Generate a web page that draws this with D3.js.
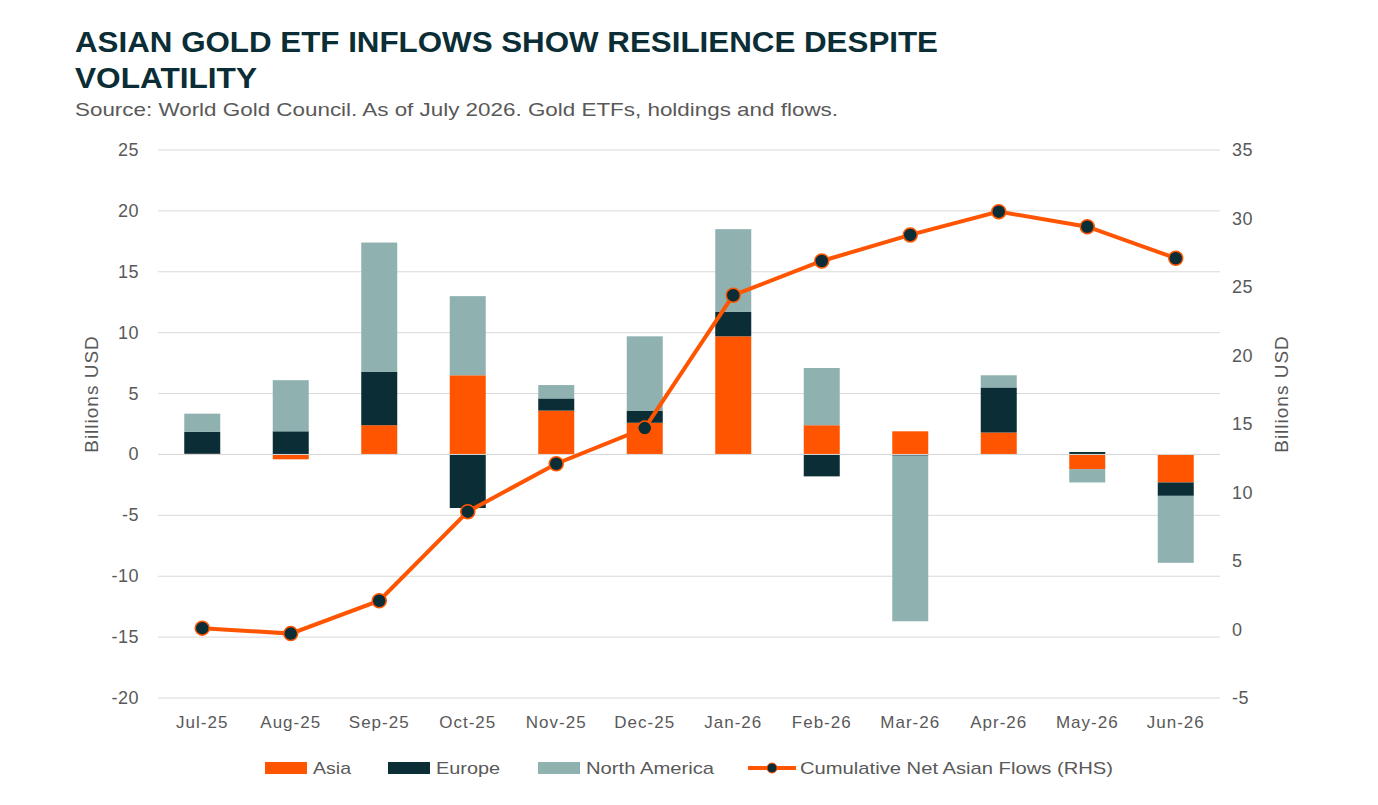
<!DOCTYPE html><html><head><meta charset="utf-8">
<script src="https://cdn.jsdelivr.net/npm/d3@7"></script>
<style>body{margin:0;background:#fff;font-family:"Liberation Sans",Arial,sans-serif}</style></head><body>
<svg id="c" width="1378" height="805"></svg>
<script>
const months=["Jul-25","Aug-25","Sep-25","Oct-25","Nov-25","Dec-25","Jan-26","Feb-26","Mar-26","Apr-26","May-26","Jun-26"];
const asia=[0.05,-0.4,2.4,6.5,3.6,2.6,9.7,2.4,1.9,1.8,-1.2,-2.3];
const europe=[1.8,1.9,4.4,-4.4,1.0,1.0,2.0,-1.8,-0.1,3.7,0.2,-1.1];
const northAmerica=[1.5,4.2,10.6,6.5,1.1,6.1,6.8,4.7,-13.6,1.0,-1.1,-5.5];
const cumulative=[0.1,-0.3,2.1,8.6,12.1,14.7,24.4,26.9,28.8,30.5,29.4,27.1];
const leftTicks=[25,20,15,10,5,0,-5,-10,-15,-20];
const rightTicks=[35,30,25,20,15,10,5,0,-5];
const svg=d3.select("#c");
const C={a:"#FF5500",e:"#0B2D35",n:"#8FB2B0",t:"#0B2D35",g:"#595959"};
svg.append("text").attr("x",75).attr("y",52).attr("font-size",29).attr("font-weight","bold").attr("fill",C.t).attr("textLength",863).attr("lengthAdjust","spacingAndGlyphs").text("ASIAN GOLD ETF INFLOWS SHOW RESILIENCE DESPITE");
svg.append("text").attr("x",75).attr("y",88).attr("font-size",29).attr("font-weight","bold").attr("fill",C.t).attr("textLength",182).attr("lengthAdjust","spacingAndGlyphs").text("VOLATILITY");
svg.append("text").attr("x",75).attr("y",116).attr("font-size",19).attr("fill",C.g).attr("textLength",763).attr("lengthAdjust","spacingAndGlyphs").text("Source: World Gold Council. As of July 2026. Gold ETFs, holdings and flows.");
const L=158,R=1220,T=150,B=698;
const x=d3.scaleBand().domain(months).range([L,R]);
const y=d3.scaleLinear().domain([-20,25]).range([B,T]);
const y2=d3.scaleLinear().domain([-5,35]).range([B,T]);
leftTicks.forEach(t=>{svg.append("line").attr("x1",L).attr("x2",R).attr("y1",y(t)).attr("y2",y(t)).attr("stroke","#d9d9d9");
svg.append("text").attr("x",139).attr("y",y(t)+6).attr("text-anchor","end").attr("font-size",18).attr("letter-spacing",0.5).attr("fill",C.g).text(t);});
rightTicks.forEach(t=>svg.append("text").attr("x",1232).attr("y",y2(t)+6).attr("font-size",18).attr("letter-spacing",0.5).attr("fill",C.g).text(t));
svg.append("text").attr("transform",`translate(98,${(T+B)/2-30}) rotate(-90)`).attr("text-anchor","middle").attr("font-size",19).attr("letter-spacing",1).attr("fill",C.g).text("Billions USD");
svg.append("text").attr("transform",`translate(1288,${(T+B)/2-30}) rotate(-90)`).attr("text-anchor","middle").attr("font-size",19).attr("letter-spacing",1).attr("fill",C.g).text("Billions USD");
months.forEach(m=>svg.append("text").attr("x",x(m)+x.bandwidth()/2).attr("y",728).attr("text-anchor","middle").attr("font-size",17).attr("letter-spacing",1).attr("fill",C.g).text(m));
const bw=36;
months.forEach((m,i)=>{let pos=0,neg=0;
[[asia[i],C.a],[europe[i],C.e],[northAmerica[i],C.n]].forEach(([v,col])=>{
let y0,y1;if(v>=0){y0=pos;y1=pos+v;pos=y1}else{y0=neg;y1=neg+v;neg=y1}
svg.append("rect").attr("x",x(m)+x.bandwidth()/2-bw/2).attr("width",bw).attr("y",y(Math.max(y0,y1))).attr("height",Math.abs(y(y0)-y(y1))).attr("fill",col);});});
svg.append("line").attr("x1",L).attr("x2",R).attr("y1",y(0)).attr("y2",y(0)).attr("stroke","#d9d9d9");
const line=d3.line().x((d,i)=>x(months[i])+x.bandwidth()/2).y(d=>y2(d));
svg.append("path").datum(cumulative).attr("d",line).attr("fill","none").attr("stroke",C.a).attr("stroke-width",4);
cumulative.forEach((d,i)=>svg.append("circle").attr("cx",x(months[i])+x.bandwidth()/2).attr("cy",y2(d)).attr("r",7).attr("fill",C.e).attr("stroke",C.a).attr("stroke-width",1.5));
const ly=768;
[[265,C.a,"Asia",38],[388,C.e,"Europe",64],[538,C.n,"North America",128]].forEach(([lx,c,t,w])=>{
svg.append("rect").attr("x",lx).attr("y",ly-6).attr("width",42).attr("height",12).attr("fill",c);
svg.append("text").attr("x",lx+48).attr("y",ly+6).attr("font-size",17).attr("fill",C.g).attr("textLength",w).attr("lengthAdjust","spacingAndGlyphs").text(t);});
svg.append("line").attr("x1",748).attr("x2",796).attr("y1",ly).attr("y2",ly).attr("stroke",C.a).attr("stroke-width",4);
svg.append("circle").attr("cx",772).attr("cy",ly).attr("r",5).attr("fill",C.e).attr("stroke",C.a);
svg.append("text").attr("x",800).attr("y",ly+6).attr("font-size",17).attr("fill",C.g).attr("textLength",313).attr("lengthAdjust","spacingAndGlyphs").text("Cumulative Net Asian Flows (RHS)");
</script></body></html>
